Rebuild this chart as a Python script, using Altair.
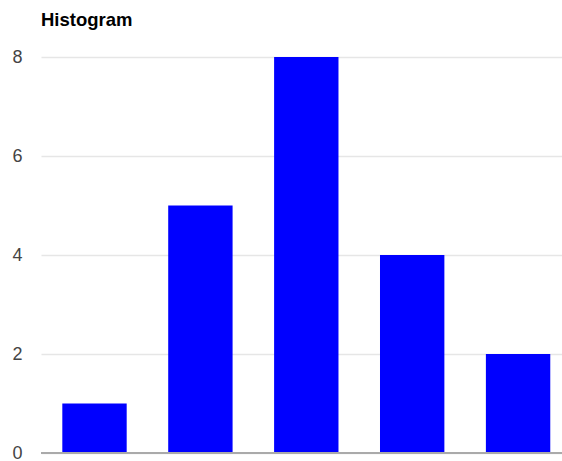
import altair as alt
import pandas as pd

bins = ["1", "2", "3", "4", "5"]
counts = [1, 5, 8, 4, 2]
y_ticks = [0, 2, 4, 6, 8]

df = pd.DataFrame({"bin": bins, "count": counts})
base_df = pd.DataFrame({"v": [0]})

bars = alt.Chart(df).mark_bar(color="#0000ff").encode(
    x=alt.X("bin:N", sort=bins, axis=None,
            scale=alt.Scale(paddingInner=0.392, paddingOuter=0.156, align=0.645)),
    y=alt.Y("count:Q", scale=alt.Scale(domain=[0, 8], nice=False),
            axis=alt.Axis(values=y_ticks, title=None, ticks=False, domain=False,
                          labelFontSize=18, labelColor="#444444", labelPadding=19,
                          labelFont="Liberation Sans",
                          gridColor="#e6e6e6", gridWidth=1.5)),
)

baseline = alt.Chart(base_df).mark_rule(color="#aaaaaa", strokeWidth=2).encode(
    y=alt.Y("v:Q")
)

chart = alt.layer(bars, baseline).properties(
    width=521,
    height=396,
    padding={"left": 41, "top": 57, "right": 0, "bottom": 8},
    autosize="none",
    title=alt.Title("Histogram", anchor="start", frame="group", offset=19,
                    fontSize=18.5, font="Liberation Sans",
                    fontWeight="bold", color="#000000"),
).configure_view(stroke=None)

chart.save("out.html", embed_options={"renderer": "svg", "actions": False})
